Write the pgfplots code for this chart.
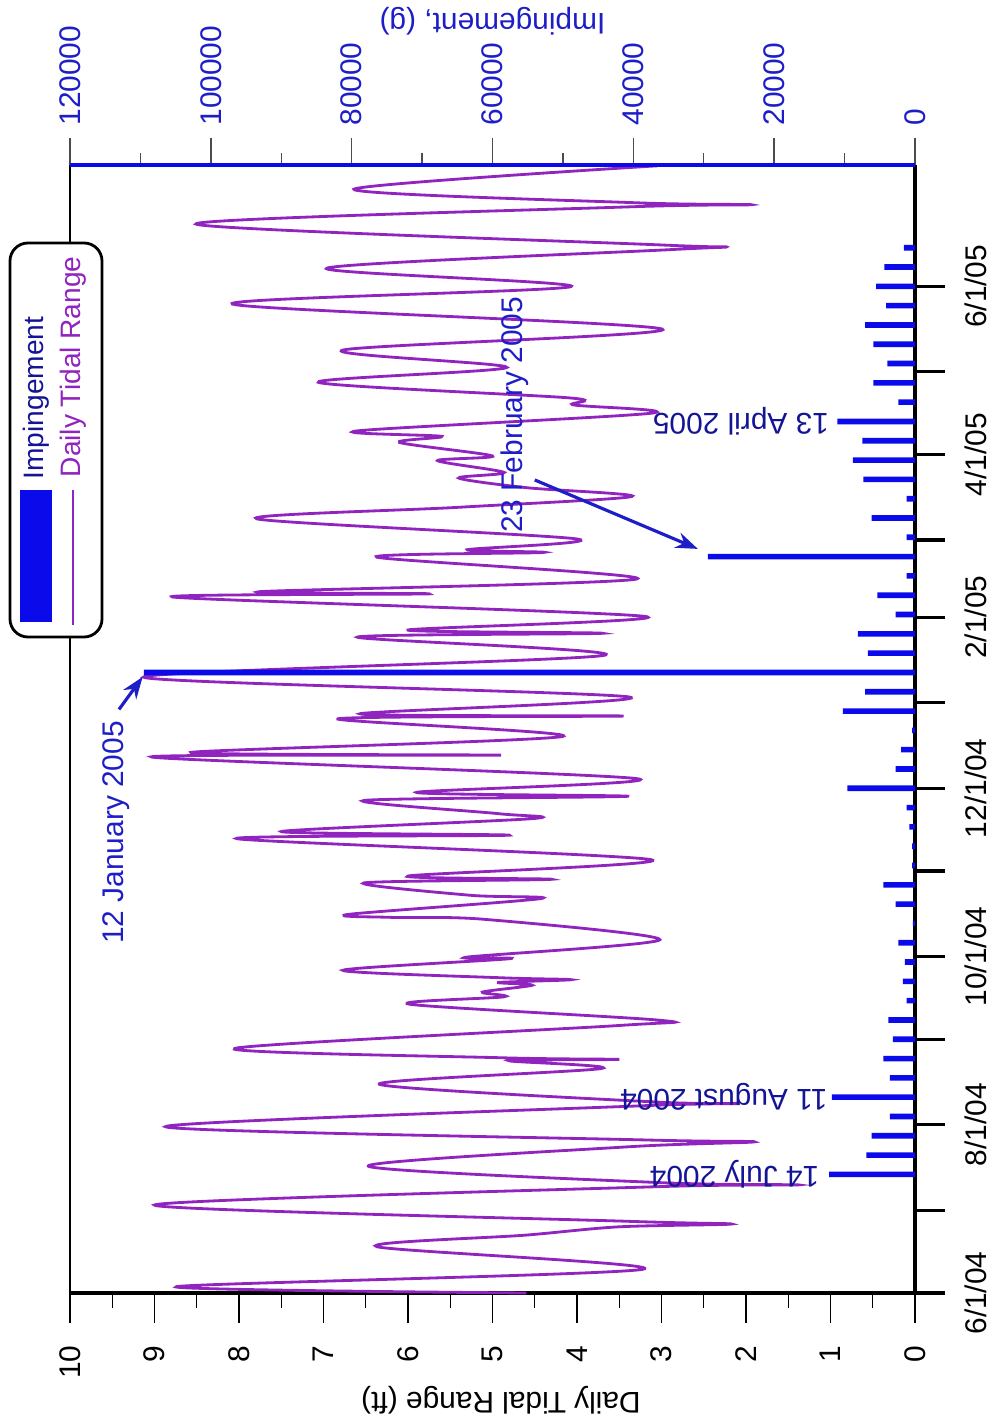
\documentclass[border=0pt]{standalone}
\usepackage{fontspec}
\setmainfont{Liberation Sans}
\usepackage{pgfplots}
\pgfplotsset{compat=1.18}
\usetikzlibrary{arrows.meta}
\definecolor{impblue}{RGB}{10,10,235}
\definecolor{labelblue}{RGB}{30,30,200}
\definecolor{navy}{RGB}{20,20,150}
\definecolor{tidepurple}{RGB}{145,35,190}

\begin{document}
\begin{tikzpicture}[font=\fontsize{8.5}{10}\selectfont]
\path[use as bounding box] (-7mm,-13.3mm) rectangle (92.5mm,129.3mm);

% tidal range: drawn with days on the vertical axis (chart is turned on its side)
\begin{axis}[
  at={(0,0)}, anchor=south west, scale only axis,
  width=84.5mm, height=112.8mm,
  xmin=0, xmax=10, x dir=reverse,
  ymin=0, ymax=409,
  axis x line*=bottom, axis y line*=right,
  x axis line style={black, line width=1pt},
  y axis line style={black, line width=1pt},
  tick align=outside,
  xtick={0,...,10}, minor x tick num=1,
  major tick length=3mm, minor tick length=1.5mm,
  xtick style={black, line width=0.4pt},
  ytick={0,30,61,92,122,153,183,214,245,273,304,334,365},
  yticklabels={6/1/04,,8/1/04,,10/1/04,,12/1/04,,2/1/05,,4/1/05,,6/1/05},
  ytick style={black, line width=0.9pt},
  /pgf/number format/assume math mode=true,
  xticklabel style={yshift=-1.0mm, rotate=90, anchor=east},
  yticklabel style={xshift=0.7mm, rotate=90, anchor=north},
  clip=false,
]
% columns: day since 6/1/04, tidal range (ft)
\addplot[tidepurple, line width=0.8pt, smooth, tension=0.5] table[x index=1, y index=0] {
0 4.6
2.3 8.74
8.6 3.22
16.8 6.37
21 4.6
24 3.5
25 2.17
26 3.4
31.9 9.0
38.5 3.1
39.2 1.38
40 3.0
46 6.47
53 3.4
54.8 1.9
55.5 3.2
60.3 8.87
67.8 3.3
68.7 2.07
69.3 3.1
75.7 6.34
81.4 3.71
84.2 4.8
84.7 3.5
85.3 4.9
88.7 8.05
97 3.5
98.9 3.02
104.7 5.98
107.4 4.86
109.1 5.12
111.6 4.53
112.6 4.93
113.6 4.07
114.3 4.9
117 6.77
121.2 4.8
121.8 5.3
128.1 3.02
135.5 5.1
136.2 6.2
137.3 6.70
143 4.43
144.2 5.26
148.7 6.52
150 4.3
151.2 6.0
157.1 3.12
164.7 8.02
166 4.8
167.3 7.5
172 4.53
173.8 4.93
178.6 6.52
180.1 3.4
181.5 5.9
186.5 3.29
194.3 9.03
195 4.9
196 8.57
201.8 4.17
208.2 6.83
209.2 3.45
210 6.57
216.1 3.38
223.3 9.13
231.2 3.68
237.8 6.6
239.2 3.7
240.4 6.0
245.3 3.19
252.3 8.77
253.5 5.75
254.3 7.75
258.9 3.29
266.8 6.37
268.5 4.4
269.5 5.3
273.4 4.0
280.7 7.79
284.9 5.39
288.8 3.35
292 4.6
295.5 5.4
297.5 4.86
301.8 5.65
303.5 5.0
308.4 6.1
310.6 5.6
312.6 6.6
319 3.12
322 4.04
324.5 4.07
330.2 7.06
335.6 4.83
341.9 6.77
349.5 2.99
358.6 8.08
364.9 4.07
371.6 6.96
378.3 2.9
379.3 2.23
380 3.0
387.6 8.51
393.8 3.4
394.6 1.94
395.3 3.3
400.2 6.64
408.7 3.05
};
\draw[black, line width=0.6pt] (rel axis cs:0,0) -- (rel axis cs:0,1);
\node[rotate=180] at (rel axis cs:0.51,0) [yshift=10.7mm] {Daily Tidal Range (ft)};
\node[rotate=180, text=labelblue] at (rel axis cs:0.5,1) [yshift=-14.4mm] {Impingement, (g)};
% annotations (positions given on the tidal scale: 1 ft = 12000 g)
\node[rotate=180, anchor=west, inner sep=0pt, text=navy] at (axis cs:1.125,43) {14 July 2004};
\node[rotate=180, anchor=west, inner sep=0pt, text=navy] at (axis cs:1.03,71) {11 August 2004};
\node[rotate=180, anchor=west, inner sep=0pt, text=navy] at (axis cs:1.01,316) {13 April 2005};
\node[rotate=90, anchor=east, inner sep=0pt, text=labelblue] at (axis cs:9.45,207.6) {12 January 2005};
\draw[-{Stealth[length=2.2mm,width=1.6mm]}, labelblue, line width=0.9pt] (axis cs:9.42,211.6) -- (axis cs:9.14,223.4);
\node[rotate=90, anchor=west, inner sep=0pt, text=labelblue] at (axis cs:4.74,275.4) {23 February 2005};
\draw[-{Stealth[length=2.2mm,width=1.6mm]}, labelblue, line width=0.9pt] (axis cs:4.5,294.8) -- (axis cs:2.57,269.8);
\end{axis}

% impingement
\begin{axis}[
  at={(0,0)}, anchor=south west, scale only axis,
  width=84.5mm, height=112.8mm,
  xmin=0, xmax=120000, x dir=reverse,
  ymin=0, ymax=409,
  axis x line*=top, hide y axis,
  x axis line style={impblue, line width=1.3pt},
  tick align=outside,
  xtick={0,20000,40000,60000,80000,100000,120000},
  minor xtick={10000,30000,50000,70000,90000,110000},
  xticklabels={0,20000,40000,60000,80000,100000,120000},
  major tick length=2.7mm, minor tick length=1.2mm,
  xtick style={black!70, line width=0.4pt},
  scaled x ticks=false,
  xticklabel style={rotate=90, anchor=west, text=labelblue},
  clip=false,
]
% columns: day since 6/1/04, impingement (g)
\addplot[xbar, bar width=1.6pt, bar shift=0pt, fill=impblue, draw=none] table[x index=1, y index=0] {
43 12200
50 6900
57 6150
64 3550
71 11800
78 3550
85 4490
92 3150
99 3780
106 1180
113 1730
120 1420
127 2370
134 300
141 2760
148 4490
155 400
162 400
169 790
176 1180
183 9600
190 2760
197 1970
204 400
211 10250
218 7100
225 109500
232 6700
239 8120
246 2760
253 5360
260 1180
267 29400
274 1180
281 6150
288 1180
295 7330
302 8830
309 7490
316 11040
323 2370
330 5910
337 3940
344 5910
351 7100
358 4100
365 5520
372 4340
379 1580
};
\end{axis}

% legend
\draw[black, line width=0.8pt, rounded corners=1.8mm, fill=white] (-6mm,65.6mm) rectangle (3.2mm,105mm);
\fill[impblue] (-5mm,67.1mm) rectangle (-1.8mm,80.3mm);
\draw[tidepurple, line width=0.8pt] (0.3mm,66.8mm) -- (0.3mm,80.3mm);
\node[rotate=90, anchor=west, inner sep=0pt, text=navy, font=\fontsize{8}{10}\selectfont] at (-3.4mm,81.3mm) {Impingement};
\node[rotate=90, anchor=west, inner sep=0pt, text=tidepurple, font=\fontsize{8}{10}\selectfont] at (0.3mm,81.5mm) {Daily Tidal Range};
\end{tikzpicture}
\end{document}
